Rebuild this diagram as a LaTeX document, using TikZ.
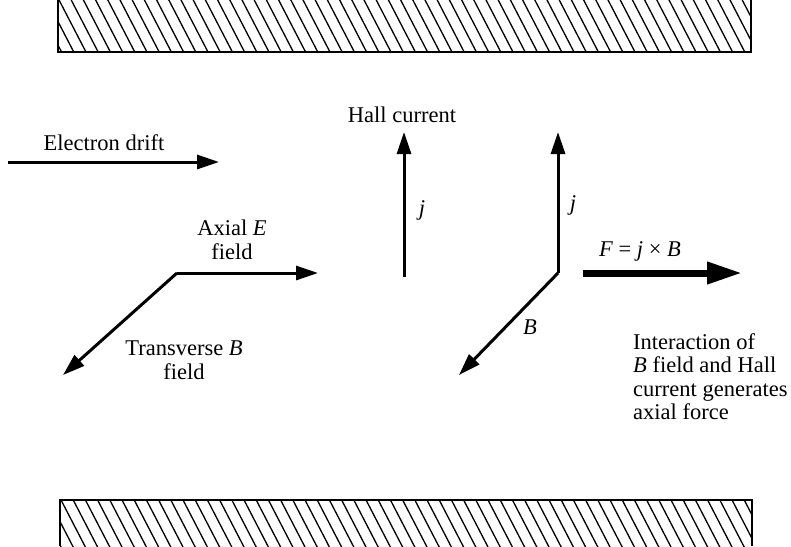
\documentclass[tikz,border=0pt]{standalone}
\usepackage{fontspec}
\setmainfont{Liberation Serif}
\usetikzlibrary{arrows.meta}
\begin{document}
\begin{tikzpicture}[x=1pt,y=-1pt,
  vec/.style={line width=3pt,-{Triangle[length=22pt,width=14pt]}},
  forcevec/.style={line width=7pt,-{Triangle[length=35pt,width=21pt]}},
  lbl/.style={font=\fontsize{22.5}{24}\selectfont, inner sep=0pt, align=center},
  lbll/.style={font=\fontsize{22.5}{23.5}\selectfont, inner sep=0pt, align=left},
  wall/.style={line width=2.4pt},
  hatch/.style={line width=1.3pt}]
\useasboundingbox (0,0) rectangle (791,546);

% top wall
\begin{scope}
  \clip (58,0) rectangle (751,52);
  \foreach \i in {-5,...,62} \draw[hatch] (58+\i*12.2,-2) -- ++(29,56);
\end{scope}
\draw[wall] (58,0) -- (58,52) -- (751,52) -- (751,0);

% bottom wall
\begin{scope}
  \clip (60,500) rectangle (752,546);
  \foreach \i in {-5,...,62} \draw[hatch] (60+\i*12.2,498) -- ++(29,56);
\end{scope}
\draw[wall] (60,546) -- (60,500) -- (752,500) -- (752,546);

% electron drift
\coordinate (ed0) at (8,162);
\coordinate (ed1) at (219,162);
\draw[vec] (ed0) -- (ed1);
\node[lbl] (edl) at (104,143) {Electron drift};

% axial E and transverse B
\coordinate (c1) at (177,273);
\coordinate (e1) at (318,273);
\coordinate (b1) at (63,375);
\draw[vec] (c1) -- (e1);
\draw[vec] (c1) -- (b1);
\node[lbl] (el) at (232,240) {Axial \textit{E}\\field};
\node[lbl] (bl) at (184,360) {Transverse \textit{B}\\field};

% Hall current
\coordinate (h0) at (404,277);
\coordinate (h1) at (404,132);
\draw[vec] (h0) -- (h1);
\node[lbl] (hl) at (402,115) {Hall current};
\node[lbl] (hj) at (422,210) {\textit{j}};

% right triad
\coordinate (c2) at (558,273);
\coordinate (j2) at (558,132);
\coordinate (b2) at (459,375);
\draw[vec] (c2) -- (j2);
\draw[vec] (c2) -- (b2);
\node[lbl] (rj) at (573,205) {\textit{j}};
\node[lbl] (rb) at (530,327) {\textit{B}};

% force
\coordinate (f0) at (583,273);
\coordinate (f1) at (742,273);
\draw[forcevec] (f0) -- (f1);
\node[lbl] (fl) at (640,251) {\textit{F} = \textit{j} × \textit{B}};

\node[lbll, anchor=north west] (il) at (633,333) {Interaction of\\\textit{B} field and Hall\\current generates\\axial force};
\end{tikzpicture}
\end{document}
